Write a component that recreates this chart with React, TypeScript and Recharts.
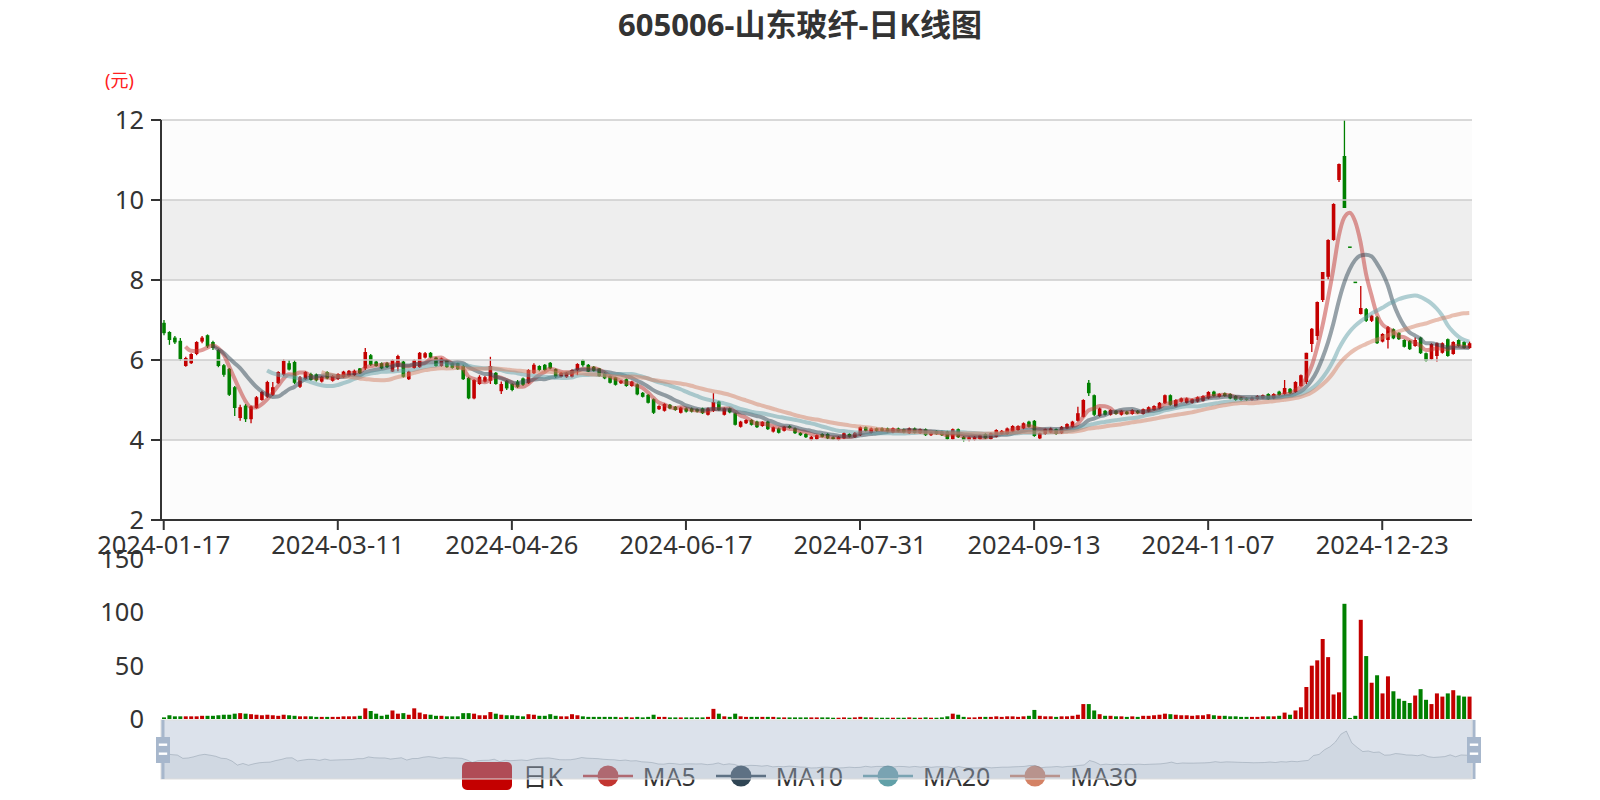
import React from 'react';
import {
  ComposedChart, BarChart, AreaChart, Bar, Line, Area, XAxis, YAxis,
  ReferenceArea, ReferenceLine, Cell,
} from 'recharts';

// ---------- data ----------
const tradingDays: [string, number[]][] = [
  ['2024-01', [17, 18, 19, 22, 23, 24, 25, 26, 29, 30, 31]],
  ['2024-02', [1, 2, 5, 6, 7, 8, 19, 20, 21, 22, 23, 26, 27, 28, 29]],
  ['2024-03', [1, 4, 5, 6, 7, 8, 11, 12, 13, 14, 15, 18, 19, 20, 21, 22, 25, 26, 27, 28, 29]],
  ['2024-04', [1, 2, 3, 8, 9, 10, 11, 12, 15, 16, 17, 18, 19, 22, 23, 24, 25, 26, 29, 30]],
  ['2024-05', [6, 7, 8, 9, 10, 13, 14, 15, 16, 17, 20, 21, 22, 23, 24, 27, 28, 29, 30, 31]],
  ['2024-06', [3, 4, 5, 6, 7, 11, 12, 13, 14, 17, 18, 19, 20, 21, 24, 25, 26, 27, 28]],
  ['2024-07', [1, 2, 3, 4, 5, 8, 9, 10, 11, 12, 15, 16, 17, 18, 19, 22, 23, 24, 25, 26, 29, 30, 31]],
  ['2024-08', [1, 2, 5, 6, 7, 8, 9, 12, 13, 14, 15, 16, 19, 20, 21, 22, 23, 26, 27, 28, 29, 30]],
  ['2024-09', [2, 3, 4, 5, 6, 9, 10, 11, 12, 13, 18, 19, 20, 23, 24, 25, 26, 27, 30]],
  ['2024-10', [8, 9, 10, 11, 14, 15, 16, 17, 18, 21, 22, 23, 24, 25, 28, 29, 30, 31]],
  ['2024-11', [1, 4, 5, 6, 7, 8, 11, 12, 13, 14, 15, 18, 19, 20, 21, 22, 25, 26, 27, 28, 29]],
  ['2024-12', [2, 3, 4, 5, 6, 9, 10, 11, 12, 13, 16, 17, 18, 19, 20, 23, 24, 25, 26, 27, 30, 31]],
  ['2025-01', [2, 3, 6, 7, 8, 9, 10, 13, 14, 15]],
];
const dates: string[] = tradingDays.flatMap(([m, ds]) => ds.map((d) => `${m}-${String(d).padStart(2, '0')}`));

const openPrices = [
  6.93, 6.70, 6.56, 6.48, 5.85, 5.92, 6.15, 6.46, 6.62, 6.45,
  6.25, 5.87, 5.78, 5.32, 4.55, 4.86, 4.52, 4.80, 5.00, 5.08,
  5.13, 5.42, 5.63, 5.92, 5.95, 5.33, 5.52, 5.65, 5.64, 5.46,
  5.70, 5.48, 5.53, 5.57, 5.60, 5.62, 5.79, 5.79, 6.12, 5.96,
  5.92, 5.92, 5.71, 5.83, 5.96, 5.52, 5.80, 5.82, 6.06, 6.18,
  6.06, 5.85, 6.00, 5.92, 5.92, 5.85, 5.55, 5.04, 5.40, 5.46,
  5.48, 5.68, 5.22, 5.48, 5.40, 5.46, 5.54, 5.42, 5.67, 5.85,
  5.88, 5.93, 5.77, 5.58, 5.57, 5.58, 5.75, 6.00, 5.88, 5.83,
  5.79, 5.67, 5.60, 5.57, 5.42, 5.52, 5.35, 5.39, 5.18, 5.13,
  5.02, 4.77, 4.73, 4.88, 4.83, 4.68, 4.79, 4.79, 4.77, 4.79,
  4.63, 4.73, 4.96, 4.63, 4.79, 4.67, 4.33, 4.42, 4.50, 4.46,
  4.35, 4.46, 4.21, 4.29, 4.23, 4.35, 4.29, 4.18, 4.15, 4.00,
  4.02, 4.15, 4.15, 4.07, 4.00, 4.04, 4.15, 4.07, 4.12, 4.32,
  4.18, 4.29, 4.29, 4.29, 4.19, 4.29, 4.27, 4.17, 4.29, 4.17,
  4.27, 4.12, 4.23, 4.21, 4.21, 4.02, 4.27, 4.08, 4.00, 4.00,
  4.02, 4.15, 4.02, 4.08, 4.15, 4.15, 4.21, 4.25, 4.29, 4.46,
  4.48, 4.04, 4.15, 4.19, 4.27, 4.17, 4.29, 4.33, 4.48, 4.58,
  5.43, 5.12, 4.60, 4.73, 4.63, 4.73, 4.63, 4.71, 4.65, 4.73,
  4.65, 4.71, 4.75, 4.79, 4.92, 5.12, 4.83, 4.96, 4.93, 4.93,
  4.96, 4.98, 5.04, 5.21, 5.08, 5.17, 5.15, 5.10, 5.06, 5.04,
  5.00, 5.02, 5.04, 5.15, 5.04, 5.21, 5.15, 5.28, 5.20, 5.35,
  5.45, 6.40, 6.60, 7.50, 8.08, 9.00, 10.50, 11.10, 8.82, 7.94,
  7.15, 7.27, 6.98, 7.07, 6.46, 6.50, 6.77, 6.68, 6.50, 6.48,
  6.35, 6.56, 6.17, 6.02, 6.10, 6.18, 6.52, 6.15, 6.50, 6.45,
  6.30,
];

const closePrices = [
  6.67, 6.50, 6.44, 6.02, 6.05, 6.15, 6.45, 6.56, 6.34, 6.30,
  5.85, 5.63, 5.13, 4.80, 4.82, 4.52, 4.84, 5.07, 5.20, 5.45,
  5.32, 5.70, 5.98, 5.76, 5.43, 5.57, 5.70, 5.50, 5.49, 5.58,
  5.54, 5.60, 5.65, 5.71, 5.73, 5.73, 5.67, 6.20, 5.88, 5.85,
  5.79, 5.82, 6.00, 6.10, 5.58, 5.71, 6.00, 6.18, 6.17, 6.06,
  5.85, 6.04, 5.82, 5.80, 5.77, 5.52, 5.04, 5.50, 5.58, 5.57,
  5.85, 5.40, 5.40, 5.29, 5.25, 5.33, 5.38, 5.75, 5.88, 5.75,
  5.75, 5.79, 5.58, 5.68, 5.68, 5.75, 5.90, 5.87, 5.71, 5.73,
  5.60, 5.54, 5.43, 5.38, 5.48, 5.35, 5.46, 5.14, 5.08, 4.93,
  4.68, 4.85, 4.90, 4.79, 4.75, 4.81, 4.71, 4.71, 4.71, 4.67,
  4.79, 4.95, 4.75, 4.79, 4.69, 4.38, 4.46, 4.50, 4.38, 4.32,
  4.45, 4.27, 4.32, 4.18, 4.33, 4.30, 4.17, 4.12, 4.07, 4.08,
  4.12, 4.08, 4.04, 4.02, 4.08, 4.17, 4.08, 4.18, 4.32, 4.23,
  4.29, 4.23, 4.23, 4.21, 4.29, 4.21, 4.19, 4.29, 4.18, 4.27,
  4.12, 4.18, 4.15, 4.12, 4.02, 4.27, 4.07, 4.00, 4.07, 4.08,
  4.12, 4.04, 4.17, 4.25, 4.23, 4.29, 4.35, 4.35, 4.42, 4.33,
  4.10, 4.17, 4.27, 4.29, 4.15, 4.33, 4.40, 4.46, 4.67, 5.00,
  5.17, 4.63, 4.79, 4.63, 4.75, 4.65, 4.73, 4.65, 4.75, 4.67,
  4.77, 4.82, 4.85, 4.93, 5.12, 4.88, 5.00, 5.04, 5.04, 5.02,
  5.07, 5.10, 5.20, 5.10, 5.15, 5.10, 5.04, 5.00, 5.00, 5.00,
  5.06, 5.10, 5.12, 5.02, 5.15, 5.12, 5.30, 5.17, 5.45, 5.62,
  6.18, 6.78, 7.45, 8.20, 9.00, 9.90, 10.90, 9.80, 8.82, 7.94,
  7.30, 6.98, 7.11, 6.42, 6.65, 6.82, 6.54, 6.52, 6.33, 6.27,
  6.50, 6.17, 5.98, 6.40, 6.42, 6.42, 6.10, 6.45, 6.35, 6.30,
  6.42,
];

const highPrices = [
  7.00, 6.72, 6.60, 6.55, 6.08, 6.17, 6.47, 6.60, 6.64, 6.48,
  6.27, 5.90, 5.80, 5.35, 4.88, 4.90, 4.86, 5.10, 5.23, 5.48,
  5.45, 5.72, 6.02, 6.00, 6.00, 5.60, 5.72, 5.68, 5.66, 5.60,
  5.72, 5.62, 5.67, 5.73, 5.75, 5.76, 5.80, 6.30, 6.15, 5.98,
  5.94, 5.95, 6.02, 6.13, 5.98, 5.73, 6.02, 6.20, 6.20, 6.20,
  6.08, 6.06, 6.02, 5.94, 5.93, 5.88, 5.58, 5.52, 5.62, 5.60,
  6.08, 5.70, 5.46, 5.50, 5.42, 5.50, 5.56, 5.77, 5.92, 5.87,
  5.90, 5.95, 5.79, 5.70, 5.70, 5.77, 5.92, 6.02, 5.90, 5.85,
  5.80, 5.69, 5.62, 5.58, 5.50, 5.54, 5.48, 5.41, 5.20, 5.15,
  5.04, 4.87, 4.92, 4.90, 4.85, 4.83, 4.81, 4.81, 4.79, 4.81,
  4.81, 5.17, 4.98, 4.81, 4.81, 4.69, 4.48, 4.52, 4.52, 4.48,
  4.47, 4.48, 4.34, 4.31, 4.35, 4.37, 4.31, 4.20, 4.17, 4.10,
  4.14, 4.17, 4.17, 4.09, 4.10, 4.19, 4.17, 4.20, 4.34, 4.34,
  4.31, 4.31, 4.31, 4.31, 4.31, 4.31, 4.29, 4.31, 4.31, 4.29,
  4.29, 4.20, 4.25, 4.23, 4.23, 4.29, 4.29, 4.10, 4.09, 4.10,
  4.14, 4.17, 4.19, 4.27, 4.25, 4.31, 4.37, 4.37, 4.44, 4.48,
  4.50, 4.19, 4.29, 4.31, 4.29, 4.35, 4.42, 4.48, 4.83, 5.02,
  5.50, 5.14, 4.81, 4.75, 4.77, 4.75, 4.75, 4.73, 4.77, 4.75,
  4.79, 4.84, 4.87, 4.95, 5.14, 5.14, 5.02, 5.06, 5.06, 5.04,
  5.09, 5.12, 5.22, 5.23, 5.17, 5.19, 5.17, 5.12, 5.08, 5.06,
  5.08, 5.12, 5.14, 5.17, 5.17, 5.23, 5.50, 5.30, 5.47, 5.64,
  6.18, 6.80, 7.46, 8.20, 9.02, 9.92, 10.91, 12.00, 8.82, 7.94,
  7.85, 7.30, 7.13, 7.10, 6.67, 6.85, 6.79, 6.70, 6.52, 6.50,
  6.56, 6.58, 6.19, 6.42, 6.44, 6.44, 6.54, 6.47, 6.52, 6.47,
  6.46,
];

const lowPrices = [
  6.62, 6.38, 6.40, 5.98, 5.83, 5.90, 6.12, 6.42, 6.30, 6.25,
  5.82, 5.58, 5.10, 4.60, 4.48, 4.45, 4.42, 4.78, 4.98, 5.05,
  5.10, 5.40, 5.60, 5.74, 5.40, 5.30, 5.50, 5.48, 5.46, 5.44,
  5.52, 5.46, 5.50, 5.55, 5.58, 5.60, 5.65, 5.75, 5.85, 5.83,
  5.77, 5.80, 5.70, 5.72, 5.56, 5.50, 5.78, 5.80, 6.04, 6.04,
  5.83, 5.83, 5.80, 5.78, 5.75, 5.50, 5.02, 5.02, 5.38, 5.44,
  5.40, 5.38, 5.15, 5.25, 5.22, 5.30, 5.35, 5.40, 5.65, 5.72,
  5.72, 5.77, 5.55, 5.56, 5.55, 5.56, 5.62, 5.83, 5.70, 5.71,
  5.58, 5.52, 5.41, 5.36, 5.40, 5.33, 5.33, 5.12, 5.06, 4.91,
  4.65, 4.75, 4.71, 4.77, 4.73, 4.66, 4.69, 4.69, 4.69, 4.65,
  4.61, 4.70, 4.73, 4.61, 4.67, 4.36, 4.31, 4.40, 4.36, 4.30,
  4.33, 4.25, 4.19, 4.16, 4.21, 4.28, 4.15, 4.10, 4.05, 3.98,
  4.00, 4.06, 4.02, 4.00, 3.98, 4.02, 4.06, 4.05, 4.10, 4.21,
  4.16, 4.21, 4.21, 4.19, 4.17, 4.19, 4.17, 4.15, 4.16, 4.15,
  4.10, 4.10, 4.13, 4.10, 4.00, 4.00, 4.05, 3.96, 3.97, 3.98,
  4.00, 4.02, 4.00, 4.06, 4.13, 4.13, 4.19, 4.23, 4.27, 4.31,
  4.08, 4.02, 4.13, 4.17, 4.13, 4.15, 4.27, 4.31, 4.46, 4.56,
  5.10, 4.60, 4.58, 4.61, 4.61, 4.63, 4.61, 4.63, 4.63, 4.65,
  4.63, 4.69, 4.73, 4.77, 4.90, 4.86, 4.81, 4.94, 4.91, 4.91,
  4.94, 4.96, 5.02, 5.08, 5.06, 5.08, 5.02, 4.98, 4.98, 4.98,
  4.98, 5.00, 5.02, 5.00, 5.02, 5.10, 5.12, 5.15, 5.18, 5.33,
  5.40, 6.20, 6.50, 7.45, 8.00, 8.98, 10.45, 9.80, 8.82, 7.94,
  7.14, 6.95, 6.95, 6.40, 6.44, 6.29, 6.52, 6.50, 6.31, 6.25,
  6.33, 6.15, 5.96, 6.00, 5.96, 6.16, 6.08, 6.13, 6.33, 6.28,
  6.28,
];

const volumes = [
  1.5, 3.5, 2.5, 2.5, 2.5, 2.5, 2.5, 3, 3, 3,
  3.5, 4, 4, 5, 5.5, 5, 4.5, 4, 3.5, 4,
  3.5, 3, 4, 3.5, 3, 2.5, 2.5, 2.5, 2, 2,
  2, 2, 2, 2.5, 2.5, 2.5, 3, 10, 7.5, 5,
  3, 4, 8, 5, 5.5, 4, 10, 6, 4.5, 4,
  3, 3, 2.5, 2.5, 2.5, 5.5, 5.5, 5, 3.5, 3.5,
  6.5, 5, 4, 3.5, 3.5, 3, 2.5, 4.5, 4, 3,
  3, 4.5, 3, 2.5, 2.5, 4.5, 3.5, 2.5, 2, 2,
  2, 2, 2, 2, 1.5, 2, 1.5, 2, 1.5, 2,
  4, 2, 2, 1.5, 1.5, 1.5, 1.5, 1.5, 1.5, 1.5,
  2, 9.5, 5, 2.5, 2, 5, 2.5, 2, 2, 2,
  2, 2, 2, 1.5, 1.5, 1.5, 1.5, 1.5, 1.5, 1.5,
  1.5, 1.5, 1.5, 1.2, 1.2, 1.5, 1.2, 1.5, 2, 1.5,
  1.5, 1.2, 1.2, 1.2, 1.2, 1.2, 1.2, 1.5, 1.2, 1.2,
  1.5, 1.2, 1.2, 1.5, 2.5, 5, 4, 2, 1.5, 1.5,
  2, 2, 2, 2.5, 2, 2.5, 2.5, 2, 2.5, 3,
  8.5, 3, 2.5, 2.5, 2, 2.5, 2.5, 3, 4, 14,
  14, 8, 4.5, 3, 3, 2.5, 2.5, 2, 2.5, 2,
  3, 3, 3.5, 4, 5, 4.5, 4, 3.5, 3.5, 3,
  3.5, 3.5, 4.5, 3.5, 3, 3, 2.5, 2.5, 2, 2,
  2, 2, 2.5, 2.5, 2.5, 3, 6, 4, 8, 11,
  30, 50, 55, 75, 58, 23, 25, 108, 1, 3,
  93, 59, 34, 41, 24, 40, 26, 19, 17, 15,
  22, 28, 18, 14, 24, 21, 24, 27, 22, 21,
  21,
];

const priceTicks = [2, 4, 6, 8, 10, 12];
const volumeTicks = [0, 50, 100, 150];
const maPeriods = [5, 10, 20, 30];
const maColors = ['#c23531', '#2f4554', '#61a0a8', '#d48265'];
const legendNames = ['日K', 'MA5', 'MA10', 'MA20', 'MA30'];

// ---------- derived ----------
const UP = '#c40000';
const DOWN = '#008000';

const movingAverage = (period: number) =>
  closePrices.map((_, i) => {
    if (i < period - 1) return null;
    let s = 0;
    for (let j = 0; j < period; j++) s += closePrices[i - j];
    return +(s / period).toFixed(3);
  });
const maSeries = maPeriods.map((p) => movingAverage(p));

const rows = dates.map((date, i) => {
  const o = openPrices[i];
  const c = closePrices[i];
  const prev = i > 0 ? closePrices[i - 1] : o;
  const up = c > o || (c === o && c >= prev);
  const row: any = {
    date, open: o, close: c, high: highPrices[i], low: lowPrices[i],
    range: [lowPrices[i], highPrices[i]], vol: volumes[i], up,
  };
  maPeriods.forEach((p, k) => { row[`ma${p}`] = maSeries[k][i]; });
  return row;
});

const oMin = Math.min(...openPrices);
const oMax = Math.max(...openPrices);
const shadowDomain = [oMin - (oMax - oMin) * 0.3, oMax + (oMax - oMin) * 0.3];

// ---------- shapes ----------
const Candle = (props: any) => {
  const { x, y, width, height, payload } = props;
  if (x == null || y == null || !payload) return null;
  const h = height || 0;
  const top = Math.min(y, y + h);
  const bottom = Math.max(y, y + h);
  const { open, close, high, low, up } = payload;
  const span = high - low;
  const py = (v: number) => (span > 0 ? top + ((high - v) / span) * (bottom - top) : top);
  const color = up ? UP : DOWN;
  const cx = x + width / 2;
  const bTop = py(Math.max(open, close));
  const bBot = py(Math.min(open, close));
  const bw = 3.6;
  return (
    <g>
      <line x1={cx} x2={cx} y1={top} y2={bottom} stroke={color} strokeWidth={1.3} />
      <rect x={cx - bw / 2} y={bTop - (bBot - bTop < 1.5 ? 0.75 : 0)} width={bw} height={Math.max(bBot - bTop, 1.5)} fill={color} />
    </g>
  );
};

const bands = [
  { y1: 2, y2: 4, fill: '#fcfcfc' },
  { y1: 4, y2: 6, fill: '#eeeeee' },
  { y1: 6, y2: 8, fill: '#fcfcfc' },
  { y1: 8, y2: 10, fill: '#eeeeee' },
  { y1: 10, y2: 12, fill: '#fcfcfc' },
];

const FONT = "'Noto Sans', 'Noto Sans CJK SC', sans-serif";
const tickStyle = { fontSize: 25.5, fill: '#333', fontFamily: FONT };

const Handle = ({ cx }: { cx: number }) => (
  <g>
    <rect x={cx - 1.5} y={720} width={3} height={59} fill="#a7b7cc" />
    <rect x={cx - 7} y={737} width={14} height={26} fill="#a7b7cc" />
    <rect x={cx - 4.2} y={743.5} width={8.4} height={2.4} fill="#fff" />
    <rect x={cx - 4.2} y={752.5} width={8.4} height={2.4} fill="#fff" />
  </g>
);

export default function App() {
  return (
    <div style={{ position: 'absolute', left: 0, top: 0, width: 1600, height: 800, background: '#fff', fontFamily: FONT, overflow: 'hidden' }}>
      <div style={{ position: 'absolute', left: 0, top: 4, width: 1600, textAlign: 'center', fontSize: 31, fontWeight: 'bold', color: '#333', lineHeight: '40px' }}>
        605006-山东玻纤-日K线图
      </div>
      <div style={{ position: 'absolute', left: 105, top: 70, fontSize: 18, color: '#ff2020', lineHeight: '20px' }}>(元)</div>

      <div style={{ position: 'absolute', left: 0, top: 0 }}>
        <ComposedChart width={1600} height={560} data={rows} margin={{ top: 120, right: 128, bottom: 10, left: 0 }}>
          {bands.map((b, i) => (
            <ReferenceArea key={`b${i}`} y1={b.y1} y2={b.y2} fill={b.fill} fillOpacity={1} stroke="none" ifOverflow="visible" />
          ))}
          {priceTicks.slice(1).map((t) => (
            <ReferenceLine key={`g${t}`} y={t} stroke="#cccccc" strokeWidth={1.5} ifOverflow="visible" />
          ))}
          <XAxis dataKey="date" interval={31} height={30} tickSize={10} tickMargin={6}
            tick={tickStyle} axisLine={{ stroke: '#333', strokeWidth: 2 }} tickLine={{ stroke: '#333', strokeWidth: 2 }} />
          <YAxis type="number" domain={[2, 12]} ticks={priceTicks} interval={0} width={161} tickSize={10} tickMargin={7}
            allowDataOverflow tick={tickStyle} axisLine={{ stroke: '#333', strokeWidth: 2 }} tickLine={{ stroke: '#333', strokeWidth: 2 }} />
          <Bar dataKey="range" barSize={4} shape={<Candle />} isAnimationActive={false} />
          {maPeriods.map((p, k) => (
            <Line key={`ma${p}`} dataKey={`ma${p}`} type="monotone" stroke={maColors[k]} strokeOpacity={0.5}
              strokeWidth={4} dot={false} activeDot={false} isAnimationActive={false} />
          ))}
        </ComposedChart>
      </div>

      <div style={{ position: 'absolute', left: 0, top: 540 }}>
        <BarChart width={1600} height={200} data={rows} margin={{ top: 19, right: 128, bottom: 21, left: 0 }}>
          <XAxis dataKey="date" hide />
          <YAxis type="number" domain={[0, 150]} ticks={volumeTicks} interval={0} width={161} axisLine={false} tickLine={false}
            tickSize={10} tickMargin={7} tick={tickStyle} />
          <Bar dataKey="vol" barSize={4} isAnimationActive={false}>
            {rows.map((r, i) => <Cell key={i} fill={r.up ? UP : DOWN} />)}
          </Bar>
        </BarChart>
      </div>

      {/* legend (under the slider) */}
      <div style={{ position: 'absolute', left: 0, top: 762, width: 1600, height: 28, display: 'flex', justifyContent: 'center', alignItems: 'center', fontSize: 25, color: '#333' }}>
        {legendNames.map((name, i) => (
          <div key={name} style={{ display: 'flex', alignItems: 'center', marginRight: i < legendNames.length - 1 ? 20 : 0 }}>
            <svg width={50} height={28} style={{ marginRight: 10 }}>
              {i === 0 ? (
                <rect x={0} y={0} width={50} height={28} rx={5} fill={UP} />
              ) : (
                <g>
                  <line x1={0} x2={50} y1={14} y2={14} stroke={maColors[i - 1]} strokeWidth={2.5} />
                  <circle cx={25} cy={14} r={10.5} fill={maColors[i - 1]} />
                </g>
              )}
            </svg>
            <span style={{ lineHeight: '28px' }}>{name}</span>
          </div>
        ))}
      </div>

      {/* data shadow of slider */}
      <div style={{ position: 'absolute', left: 161, top: 720 }}>
        <AreaChart width={1311} height={59} data={rows} margin={{ top: 0, right: 0, bottom: 0, left: 0 }}>
          <XAxis dataKey="date" hide />
          <YAxis hide type="number" domain={shadowDomain} allowDataOverflow />
          <Area dataKey="open" type="linear" stroke="rgba(47,69,84,0.3)" strokeWidth={1}
            fill="rgba(47,69,84,0.09)" fillOpacity={1} dot={false} activeDot={false} isAnimationActive={false} />
        </AreaChart>
      </div>

      <svg width={1600} height={800} style={{ position: 'absolute', left: 0, top: 0, pointerEvents: 'none' }}>
        <rect x={161} y={720} width={1311} height={59} fill="rgba(167,183,204,0.4)" stroke="#dddddd" strokeWidth={1} />
        <Handle cx={163} />
        <Handle cx={1474} />
      </svg>
    </div>
  );
}
